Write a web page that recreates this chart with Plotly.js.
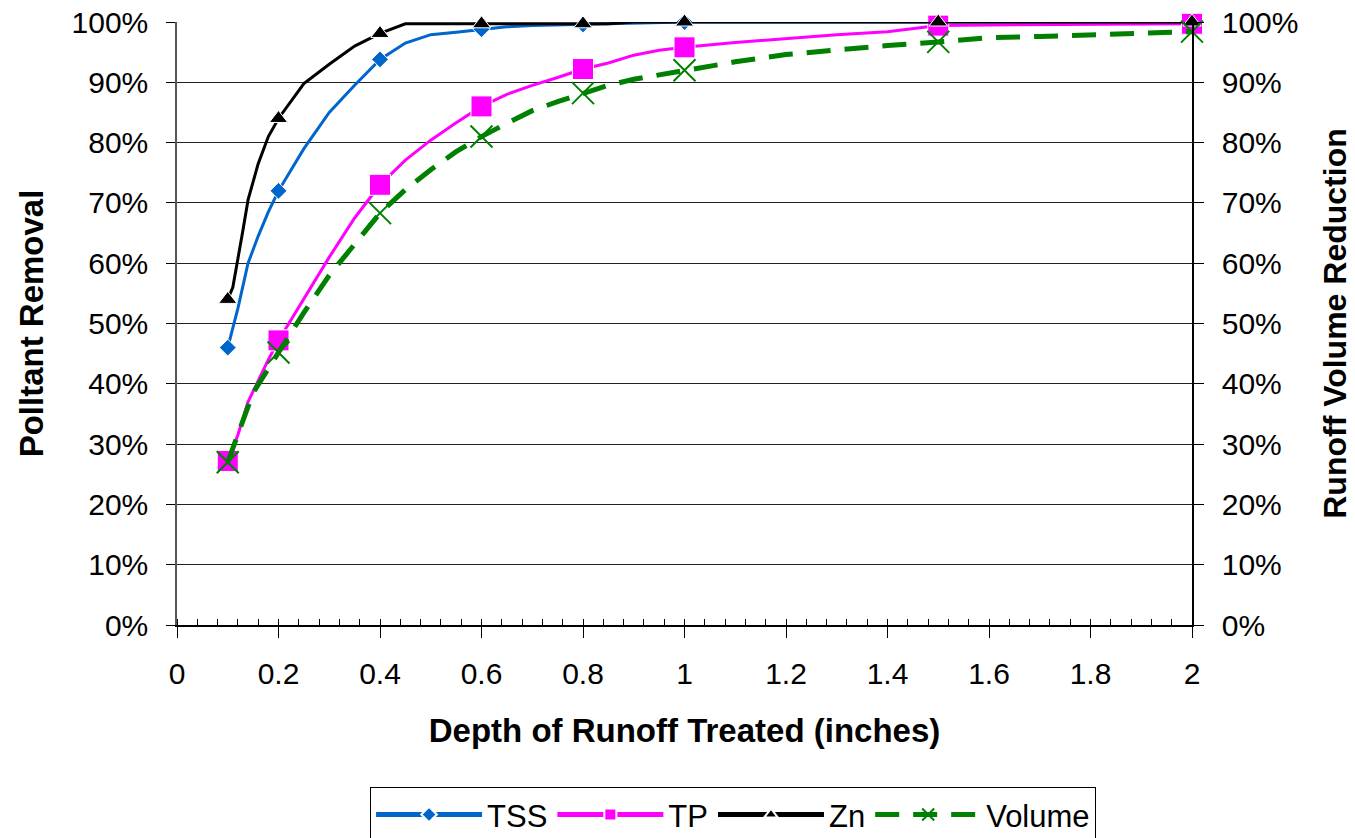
<!DOCTYPE html>
<html>
<head>
<meta charset="utf-8">
<script src="https://cdn.plot.ly/plotly-3.0.1.min.js"></script>
<style>html,body{margin:0;padding:0;background:#fff;}#chart{width:1355px;height:838px;}</style>
</head>
<body>
<div id="chart"></div>
<script>
// Marker positions (x values where markers are drawn)
const markerX = [0.1, 0.2, 0.4, 0.6, 0.8, 1.0, 1.5, 2.0];

// TSS series
const tssX = [0.1, 0.12, 0.14, 0.16, 0.18, 0.2, 0.25, 0.3, 0.35, 0.4, 0.45, 0.5, 0.55, 0.6, 0.65, 0.7, 0.8, 0.9, 1.0, 1.5, 2.0];
const tssY = [46.0, 52.5, 60.0, 64.5, 68.5, 72.0, 79.0, 85.0, 89.5, 93.8, 96.5, 97.9, 98.3, 98.8, 99.2, 99.4, 99.6, 99.8, 100, 100, 100];

// TP series
const tpX = [0.1, 0.12, 0.14, 0.16, 0.18, 0.2, 0.25, 0.3, 0.35, 0.4, 0.45, 0.5, 0.55, 0.6, 0.65, 0.7, 0.75, 0.8, 0.85, 0.9, 0.95, 1.0, 1.1, 1.2, 1.3, 1.4, 1.5, 1.6, 1.8, 2.0];
const tpY = [27.2, 31.5, 37.0, 40.5, 44.0, 47.2, 54.0, 61.0, 67.5, 73.0, 77.1, 80.4, 83.3, 86.0, 88.0, 89.5, 90.8, 92.2, 93.2, 94.5, 95.3, 95.8, 96.6, 97.3, 97.9, 98.4, 99.4, 99.5, 99.6, 99.7];

// Zn series
const znX = [0.1, 0.11, 0.13, 0.14, 0.16, 0.18, 0.2, 0.25, 0.3, 0.35, 0.4, 0.45, 0.5, 0.6, 0.7, 0.8, 0.85, 0.9, 1.0, 1.5, 2.0];
const znY = [54.0, 56.0, 65.5, 70.5, 76.5, 81.0, 84.0, 89.8, 93.0, 96.0, 98.1, 99.7, 99.7, 99.7, 99.7, 99.7, 99.7, 100, 100, 100, 100];

// Volume series (right axis)
const volX = [0.1, 0.13, 0.15, 0.2, 0.25, 0.3, 0.35, 0.4, 0.45, 0.5, 0.55, 0.6, 0.65, 0.7, 0.75, 0.8, 0.85, 0.9, 1.0, 1.1, 1.2, 1.3, 1.4, 1.5, 1.6, 1.7, 1.8, 1.9, 2.0];
const volY = [27.0, 34.0, 38.5, 45.2, 51.8, 58.0, 63.3, 68.3, 72.2, 75.5, 78.5, 81.0, 83.2, 85.3, 86.8, 88.2, 89.5, 90.5, 92.0, 93.4, 94.6, 95.4, 96.1, 96.7, 97.4, 97.6, 97.8, 98.2, 98.4];

// Axis tick labels
const xTickVals = [0, 0.2, 0.4, 0.6, 0.8, 1, 1.2, 1.4, 1.6, 1.8, 2];
const xTickText = ['0', '0.2', '0.4', '0.6', '0.8', '1', '1.2', '1.4', '1.6', '1.8', '2'];
const yTickVals = [0, 10, 20, 30, 40, 50, 60, 70, 80, 90, 100];
const yTickText = ['0%', '10%', '20%', '30%', '40%', '50%', '60%', '70%', '80%', '90%', '100%'];

const FONT = 'Liberation Sans, Arial, sans-serif';

function sizes(xs, s) {
  return xs.map(v => markerX.some(m => Math.abs(m - v) < 1e-9) ? s : 0);
}

const traces = [
  {
    x: tssX, y: tssY, name: 'TSS', type: 'scatter', mode: 'lines+markers',
    line: {color: '#0066CC', width: 3},
    marker: {symbol: 'diamond', color: '#0066CC', opacity: 1, size: sizes(tssX, 13)},
    cliponaxis: false
  },
  {
    x: tpX, y: tpY, name: 'TP', type: 'scatter', mode: 'lines+markers',
    line: {color: '#FF00FF', width: 3},
    marker: {symbol: 'square', color: '#FF00FF', opacity: 1, size: sizes(tpX, 21)},
    cliponaxis: false
  },
  {
    x: znX, y: znY, name: 'Zn', type: 'scatter', mode: 'lines+markers',
    line: {color: '#000000', width: 3},
    marker: {symbol: 'triangle-up', color: '#000000', opacity: 1, size: sizes(znX, 16)},
    cliponaxis: false
  },
  {
    x: volX, y: volY, name: 'Volume', type: 'scatter', mode: 'lines+markers', yaxis: 'y2',
    line: {color: '#008000', width: 5, dash: '24px,14px'},
    marker: {symbol: 'x-thin-open', color: '#008000', opacity: 1, size: sizes(volX, 22), line: {color: '#008000', width: 2}},
    cliponaxis: false
  }
];

const layout = {
  width: 1355, height: 838,
  margin: {l: 177, r: 163, t: 22, b: 213},
  paper_bgcolor: '#ffffff', plot_bgcolor: '#ffffff',
  font: {family: FONT, color: '#000', size: 30},
  showlegend: true,
  legend: {
    orientation: 'h', x: 0.541, xanchor: 'center', xref: 'container',
    y: 0.061, yanchor: 'top', yref: 'container',
    bordercolor: '#000', borderwidth: 1, bgcolor: '#fff',
    font: {family: FONT, size: 31, color: '#000'},
    itemsizing: 'constant', itemwidth: 106, tracegroupgap: 0
  },
  xaxis: {
    range: [0, 2], tickvals: xTickVals, ticktext: xTickText,
    ticks: 'outside', ticklen: 11, tickwidth: 1, tickcolor: '#000',
    ticklabelstandoff: 10,
    showline: true, linecolor: '#000', linewidth: 1.5,
    showgrid: false, zeroline: false,
    tickfont: {family: FONT, size: 30, color: '#000'},
    minor: {ticks: 'inside', dtick: 0.04, tick0: 0, ticklen: 6, tickwidth: 1, tickcolor: '#000', showgrid: false},
    title: {text: '<b>Depth of Runoff Treated (inches)</b>', font: {family: FONT, size: 33, color: '#000'}, standoff: 30},
    automargin: false
  },
  yaxis: {
    range: [0, 100], tickvals: yTickVals, ticktext: yTickText,
    ticks: 'outside', ticklen: 9, tickwidth: 1, tickcolor: '#000',
    ticklabelstandoff: 12,
    showline: true, linecolor: '#555', linewidth: 1.5,
    showgrid: true, gridcolor: '#222', gridwidth: 1, zeroline: false,
    tickfont: {family: FONT, size: 30, color: '#000'},
    title: {text: '<b>Polltant Removal</b>', font: {family: FONT, size: 33, color: '#000'}, standoff: 18},
    automargin: false
  },
  yaxis2: {
    range: [0, 100], tickvals: yTickVals, ticktext: yTickText,
    overlaying: 'y', side: 'right',
    ticks: 'outside', ticklen: 10, tickwidth: 1, tickcolor: '#000',
    ticklabelstandoff: 12,
    showline: true, linecolor: '#000', linewidth: 1.5,
    showgrid: false, zeroline: false,
    tickfont: {family: FONT, size: 30, color: '#000'},
    title: {text: '<b>Runoff Volume Reduction</b>', font: {family: FONT, size: 32, color: '#000'}, standoff: 26},
    automargin: false
  }
};

Plotly.newPlot('chart', traces, layout, {displayModeBar: false, responsive: false});
</script>
</body>
</html>
